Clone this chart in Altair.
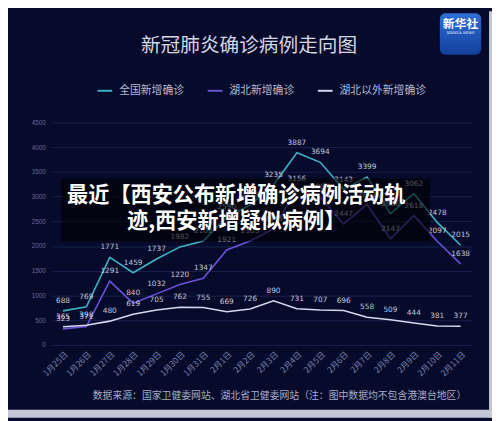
import altair as alt
import pandas as pd

dates = ["1月25日", "1月26日", "1月27日", "1月28日", "1月29日", "1月30日", "1月31日",
         "2月1日", "2月2日", "2月3日", "2月4日", "2月5日", "2月6日", "2月7日",
         "2月8日", "2月9日", "2月10日", "2月11日"]
national = [688, 769, 1771, 1459, 1737, 1982, 2102, 2590, 2829, 3235, 3887, 3694, 3143, 3399, 2656, 3062, 2478, 2015]
hubei = [323, 371, 1291, 840, 1032, 1220, 1347, 1921, 2103, 2345, 3156, 2987, 2447, 2841, 2147, 2618, 2097, 1638]
outside = [365, 398, 480, 619, 705, 762, 755, 669, 726, 890, 731, 707, 696, 558, 509, 444, 381, 377]
series_names = ["全国新增确诊", "湖北新增确诊", "湖北以外新增确诊"]
series_colors = ["#3db3c2", "#6a52d6", "#d4d8ee"]
y_ticks = [0, 500, 1000, 1500, 2000, 2500, 3000, 3500, 4000, 4500]

title_text = "新冠肺炎确诊病例走向图"
overlay_lines = ["最近【西安公布新增确诊病例活动轨", "迹,西安新增疑似病例】"]
footer_text = "数据来源：国家卫健委网站、湖北省卫健委网站（注：图中数据均不包含港澳台地区）"

FONT = "Noto Sans CJK SC"

rows = []
for name, vals in zip(series_names, [national, hubei, outside]):
    for d, v in zip(dates, vals):
        rows.append({"date": d, "series": name, "value": v})
df = pd.DataFrame(rows)

x_enc = alt.X("date:N", sort=dates, title=None,
              scale=alt.Scale(type="point", padding=0.5),
              axis=alt.Axis(labelAngle=-45, labelFontSize=8.5, labelColor="#7a82aa",
                            labelFont=FONT, ticks=False, domain=False, grid=False,
                            labelPadding=5, labelOverlap=False))
y_enc = alt.Y("value:Q", title=None,
              scale=alt.Scale(domain=[0, 4500], nice=False),
              axis=alt.Axis(values=y_ticks, format="d", labelOverlap=False,
                            labelFontSize=6.5, labelColor="#656c96",
                            ticks=False, domain=False, gridColor="#18224e", gridWidth=1,
                            labelPadding=6, labelFlush=False))

color_enc = alt.Color("series:N", sort=series_names,
                      scale=alt.Scale(domain=series_names, range=series_colors),
                      legend=alt.Legend(orient="none", legendX=46, legendY=-41,
                                        direction="horizontal", title=None,
                                        symbolType="stroke", symbolSize=225,
                                        symbolStrokeWidth=2, labelColor="#b4b8d0",
                                        labelFontSize=11, labelFont=FONT,
                                        labelOffset=6, columnPadding=20))

lines = alt.Chart(df).mark_line(strokeWidth=1.6).encode(x=x_enc, y=y_enc, color=color_enc)
labels = alt.Chart(df).mark_text(dy=-10, fontSize=7.5, color="#c4c8dc", font="DejaVu Sans").encode(
    x=x_enc, y=y_enc, text="value:Q")

one = pd.DataFrame({"k": [0]})

# gray border strips (right and bottom)
border_r = alt.Chart(one).mark_rect(color="#c4c8d6").encode(
    x=alt.value(445), x2=alt.value(450), y=alt.value(-113), y2=alt.value(300))
border_b = alt.Chart(one).mark_rect(color="#c4c8d6").encode(
    x=alt.value(-44), x2=alt.value(450), y=alt.value(292), y2=alt.value(300))

title = alt.Chart(one).mark_text(text=title_text, fontSize=20, font=FONT, color="#d4d6e2",
                                 baseline="middle", align="center").encode(
    x=alt.value(201), y=alt.value(-78))

logo = alt.Chart(one).mark_rect(cornerRadius=6,
                                fill=alt.Gradient(gradient="linear",
                                                  stops=[alt.GradientStop(color="#2f6fd6", offset=0),
                                                         alt.GradientStop(color="#123f9c", offset=1)],
                                                  x1=0, x2=0, y1=0, y2=1)).encode(
    x=alt.value(395), x2=alt.value(437), y=alt.value(-111), y2=alt.value(-69))
logo_t1 = alt.Chart(one).mark_text(text="新华社", fontSize=12, font=FONT, fontWeight="bold",
                                   color="white", baseline="middle").encode(
    x=alt.value(416), y=alt.value(-100))
logo_t2 = alt.Chart(one).mark_text(text="XINHUA NEWS", fontSize=3.5, font="DejaVu Serif",
                                   color="white", baseline="middle").encode(
    x=alt.value(416), y=alt.value(-91))

overlay_box = alt.Chart(one).mark_rect(color="black", opacity=0.6).encode(
    x=alt.value(10), x2=alt.value(385), y=alt.value(57), y2=alt.value(121))
ov1 = alt.Chart(one).mark_text(text=overlay_lines[0], fontSize=21.5, font=FONT, fontWeight="bold",
                               color="white", baseline="middle").encode(
    x=alt.value(188), y=alt.value(75))
ov2 = alt.Chart(one).mark_text(text=overlay_lines[1], fontSize=21.5, font=FONT, fontWeight="bold",
                               color="white", baseline="middle").encode(
    x=alt.value(188), y=alt.value(101))

footer = alt.Chart(one).mark_text(text=footer_text, fontSize=10, font=FONT, color="#a8adc6",
                                  baseline="middle").encode(
    x=alt.value(232), y=alt.value(278))

chart = alt.layer(lines, labels, border_r, border_b, title, logo, logo_t1, logo_t2,
                  overlay_box, ov1, ov2, footer).properties(
    width=428, height=226,
    autosize=alt.AutoSizeParams(type="none"),
    padding={"left": 44, "top": 113, "right": 20, "bottom": 74},
    background="#060b2c",
).configure_view(stroke=None).configure_axisY(labelOverlap=False)

chart.save("out.html", embed_options={"renderer": "svg", "actions": False})
